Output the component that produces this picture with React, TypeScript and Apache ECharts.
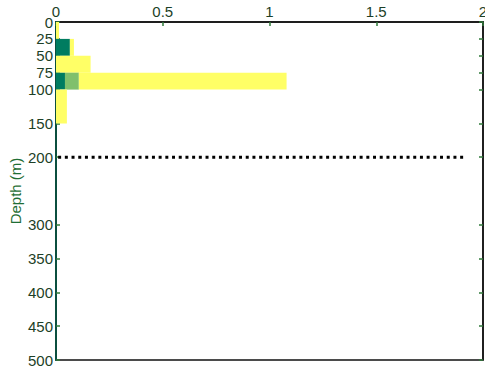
import React, { useEffect, useRef } from "react";
import * as echarts from "echarts";

const binStart = [0, 25, 50, 75, 100];
const binEnd = [25, 50, 75, 100, 150];
const darkTeal = [0, 0.065, 0, 0.042, 0];
const midGreen = [0, 0, 0, 0.065, 0];
const yellow = [0.014, 0.019, 0.162, 0.973, 0.051];
const depthTicks = [0, 25, 50, 75, 100, 150, 200, 300, 350, 400, 450, 500];
const xTicks = [0, 0.5, 1, 1.5, 2];
const refLineDepth = 200;
const refLineX = [0.01, 1.92];

const FONT = "'Liberation Sans', Arial, sans-serif";
const LABEL_COLOR = "#1d3f27";
const TICK_COLOR = "#2f7a3a";

export default function App() {
  const ref = useRef<HTMLDivElement>(null);
  useEffect(() => {
    if (!ref.current) return;
    const chart = echarts.init(ref.current, undefined, { renderer: "svg" });
    const layers = [darkTeal, midGreen, yellow];
    const colors = ["#007c60", "#80c06c", "#ffff66"];
    const data = binStart.map((s, i) => [s, binEnd[i], darkTeal[i], midGreen[i], yellow[i]]);
    chart.setOption({
      animation: false,
      grid: {
        left: 56,
        right: 2,
        top: 22,
        bottom: 12,
        outerBoundsMode: "none",
        containLabel: false,
        show: true,
        borderColor: "#111",
        borderWidth: 1.5,
        backgroundColor: "#fff",
      },
      xAxis: {
        type: "value",
        position: "top",
        min: 0,
        max: 2,
        interval: 0.5,
        splitLine: { show: false },
        axisLine: { show: true, lineStyle: { color: "#111", width: 1.5 } },
        axisTick: { show: true, inside: true, length: 4, lineStyle: { color: TICK_COLOR, width: 1.5 } },
        axisLabel: {
          color: LABEL_COLOR,
          fontFamily: FONT,
          fontSize: 15,
          margin: 3,
          customValues: xTicks,
          formatter: (v: number) => String(v),
        },
      },
      yAxis: [
        {
          type: "value",
          inverse: true,
          min: 0,
          max: 500,
          name: "Depth (m)",
          nameLocation: "middle",
          nameRotate: 90,
          nameGap: 41,
          nameMoveOverlap: false,
          nameTextStyle: {
            color: "#1f6e35",
            fontFamily: FONT,
            fontSize: 15,
            align: "center",
            verticalAlign: "middle",
          },
          splitLine: { show: false },
          axisLine: { show: true, lineStyle: { color: "#0b4f3f", width: 2 } },
          axisTick: {
            show: true,
            inside: true,
            length: 4,
            customValues: depthTicks,
            lineStyle: { color: TICK_COLOR, width: 1.5 },
          },
          axisLabel: {
            color: LABEL_COLOR,
            fontFamily: FONT,
            fontSize: 15,
            margin: 3,
            customValues: depthTicks,
          },
        },
        {
          type: "value",
          inverse: true,
          position: "right",
          min: 0,
          max: 500,
          splitLine: { show: false },
          axisLine: { show: true, lineStyle: { color: "#111", width: 1.5 } },
          axisTick: {
            show: true,
            inside: true,
            length: 4,
            customValues: depthTicks,
            lineStyle: { color: TICK_COLOR, width: 1.5 },
          },
          axisLabel: { show: false },
        },
      ],
      series: [
        {
          type: "custom",
          xAxisIndex: 0,
          yAxisIndex: 0,
          data,
          renderItem: (params: any, api: any) => {
            const y0 = api.value(0);
            const y1 = api.value(1);
            const children: any[] = [];
            let acc = 0;
            for (let k = 0; k < layers.length; k++) {
              const v = api.value(2 + k);
              if (v > 0) {
                const p0 = api.coord([acc, y0]);
                const p1 = api.coord([acc + v, y1]);
                children.push({
                  type: "rect",
                  shape: { x: p0[0], y: p0[1], width: p1[0] - p0[0], height: p1[1] - p0[1] },
                  style: { fill: colors[k] },
                });
              }
              acc += v;
            }
            return { type: "group", children };
          },
        },
        {
          type: "line",
          xAxisIndex: 0,
          yAxisIndex: 0,
          symbol: "none",
          data: [
            [refLineX[0], refLineDepth],
            [refLineX[1], refLineDepth],
          ],
          lineStyle: { color: "#000", width: 3, type: [3, 3.7] },
        },
      ],
    });
    return () => chart.dispose();
  }, []);
  return (
    <div
      ref={ref}
      style={{ position: "fixed", left: 0, top: 0, width: 485, height: 372, background: "#fff" }}
    />
  );
}
